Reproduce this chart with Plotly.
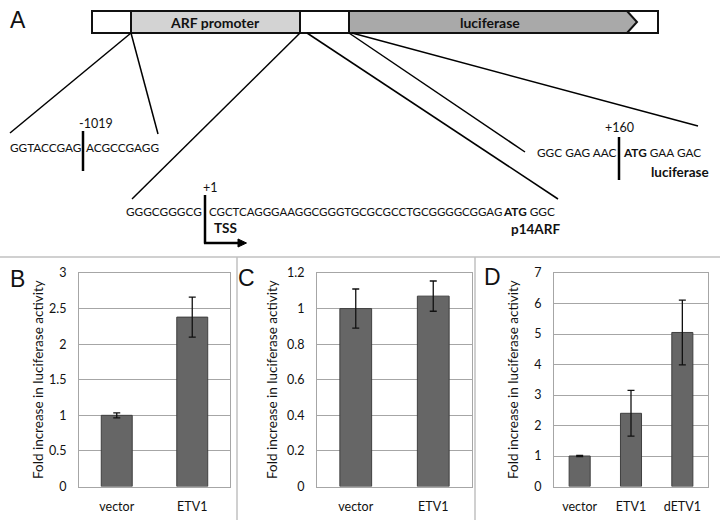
import plotly.graph_objects as go

# ---------------- data ----------------
cats_b = ["vector", "ETV1"]
vals_b = [1.00, 2.38]
errs_b = [0.035, 0.28]

cats_c = ["vector", "ETV1"]
vals_c = [1.00, 1.07]
errs_c = [0.11, 0.085]

cats_d = ["vector", "ETV1", "dETV1"]
vals_d = [1.00, 2.40, 5.05]
errs_d = [0.02, 0.75, 1.06]

ticks_b = [0, 0.5, 1, 1.5, 2, 2.5, 3]
ticks_c = [0, 0.2, 0.4, 0.6, 0.8, 1, 1.2]
ticks_d = [0, 1, 2, 3, 4, 5, 6, 7]

W, H = 720, 520
def X(px): return px / W
def Y(py): return 1 - py / H

FONT = "Lato"
BAR = "#666666"
BAR_LINE = "#3f3f3f"
GRID = "#a6a6a6"
TXT = "#111111"
SEQ = 11.8

fig = go.Figure()

panels = [
    ("x", "y", cats_b, vals_b, errs_b, ticks_b, (79, 230), 3),
    ("x2", "y2", cats_c, vals_c, errs_c, ticks_c, (317, 472), 1.2),
    ("x3", "y3", cats_d, vals_d, errs_d, ticks_d, (554, 708), 7),
]
top_px, bot_px = 273, 486.5

layout_axes = {}
for i, (xa, ya, cats, vals, errs, ticks, (x0, x1), ymax) in enumerate(panels):
    fig.add_trace(go.Bar(
        x=cats, y=vals, xaxis=xa, yaxis=ya,
        marker=dict(color=BAR, line=dict(color=BAR_LINE, width=1)),
        width=0.41,
        error_y=dict(type="data", array=errs, visible=True, color="#111111",
                     thickness=1.3, width=3.5),
        showlegend=False, hoverinfo="skip",
    ))
    n = "" if i == 0 else str(i + 1)
    layout_axes["xaxis" + n] = dict(
        domain=[X(x0), X(x1)], anchor=ya, showgrid=False, zeroline=False,
        showline=True, mirror=True, linecolor=GRID, linewidth=1,
        ticks="", tickfont=dict(family=FONT, size=12.5, color=TXT),
        ticklabelstandoff=8, fixedrange=True, automargin=False,
    )
    layout_axes["yaxis" + n] = dict(
        domain=[Y(bot_px), Y(top_px)], anchor=xa, range=[0, ymax],
        tickvals=ticks, ticktext=[("%g" % t) for t in ticks],
        showgrid=True, gridcolor=GRID, gridwidth=1, zeroline=False,
        showline=True, mirror=True, linecolor=GRID, linewidth=1,
        ticks="", tickfont=dict(family=FONT, size=12.5, color=TXT),
        ticklabelstandoff=9, fixedrange=True, automargin=False,
    )

shapes = []
annots = []

def line(x0, y0, x1, y1, color="black", width=1.5):
    shapes.append(dict(type="line", xref="paper", yref="paper",
                       x0=X(x0), y0=Y(y0), x1=X(x1), y1=Y(y1),
                       line=dict(color=color, width=width)))

def rect(x0, y0, x1, y1, fill, lw=2):
    shapes.append(dict(type="rect", xref="paper", yref="paper",
                       x0=X(x0), y0=Y(y0), x1=X(x1), y1=Y(y1),
                       fillcolor=fill, line=dict(color="#111111", width=lw)))

def path(points, fill, lw=2, color="#111111"):
    d = "M " + " L ".join("%f,%f" % (X(a), Y(b)) for a, b in points) + " Z"
    shapes.append(dict(type="path", xref="paper", yref="paper", path=d,
                       fillcolor=fill, line=dict(color=color, width=lw)))

def text(s, x, y, anchor="center", size=12, family=FONT, color=TXT, angle=0):
    annots.append(dict(text=s, x=X(x), y=Y(y), xref="paper", yref="paper",
                       xanchor=anchor, yanchor="middle", showarrow=False,
                       textangle=angle, borderpad=0,
                       font=dict(family=family, size=size, color=color)))

# ---------------- panel separators ----------------
SEP = "#c0c0c0"
line(0, 257, 720, 257, SEP, 1.5)
line(237, 257, 237, 520, SEP, 1.5)
line(475, 257, 475, 520, SEP, 1.5)

# ---------------- panel A: construct ----------------
rect(92, 11, 658, 33, "white")
rect(131, 11, 300, 33, "#d3d3d3")
rect(300, 11, 349, 33, "white")
path([(349, 11), (627, 11), (637, 22), (627, 33), (349, 33)], "#a9a9a9")
text("<b>ARF promoter</b>", 215, 22.5, size=14)
text("<b>luciferase</b>", 490, 22.5, size=14)

# zoom lines
line(131, 33, 10, 133)
line(131, 33, 158, 134)
line(300, 33, 132, 199)
line(307, 33, 558, 199)
line(349, 33, 525, 152)
line(352, 33, 698, 126)

# -1019 junction
text("-1019", 96, 123, size=12.5)
text("GGTACCGAG", 82, 147, anchor="right", size=SEQ)
text("ACGCCGAGG", 85, 147, anchor="left", size=SEQ)
line(83, 131, 83, 171, "black", 2.5)

# +160 junction
text("+160", 619, 127, size=12.5)
text("GGC GAG AAC", 616.5, 152, anchor="right", size=SEQ)
text("<b>ATG</b> GAA GAC", 622, 152, anchor="left", size=SEQ)
line(619, 137, 619, 180, "black", 2.5)
text("<b>luciferase</b>", 710, 172, anchor="right", size=13.5)

# TSS
text("+1", 210, 187, size=12.5)
text("GGGCGGGCG", 203, 211, anchor="right", size=SEQ)
text("CGCTCAGGGAAGGCGGGTGCGCGCCTGCGGGGCGGAG", 207.5, 211, anchor="left", size=11.5)
text("<b>ATG</b> GGC", 556, 211, anchor="right", size=SEQ)
line(205, 195, 205, 243.5, "black", 2.5)
line(204, 243, 240, 243, "black", 2.5)
path([(238, 239), (246.5, 243), (238, 247)], "black", lw=1, color="black")
text("<b>TSS</b>", 225, 228, size=13.5)
text("<b>p14ARF</b>", 561, 229, anchor="right", size=13.5)

# panel letters
LET = "Liberation Sans"
text("A", 18, 20, size=23, family=LET, color="#111111")
text("B", 17, 279, size=23, family=LET, color="#111111")
text("C", 246, 278, size=23, family=LET, color="#111111")
text("D", 492, 277, size=23, family=LET, color="#111111")

# y-axis titles
ytitle = "Fold increase in luciferase activity"
text(ytitle, 38, 380, size=13.5, angle=-90)
text(ytitle, 272, 380, size=13.5, angle=-90)
text(ytitle, 513, 380, size=13.5, angle=-90)

fig.update_layout(
    width=W, height=H, margin=dict(l=0, r=0, t=0, b=0, pad=0, autoexpand=False),
    paper_bgcolor="white", plot_bgcolor="white",
    shapes=shapes, annotations=annots, bargap=0.59,
    **layout_axes,
)

fig.write_html("out.html", config={"displayModeBar": False},
               post_script="document.body.style.margin='0';document.body.style.overflow='hidden';")
